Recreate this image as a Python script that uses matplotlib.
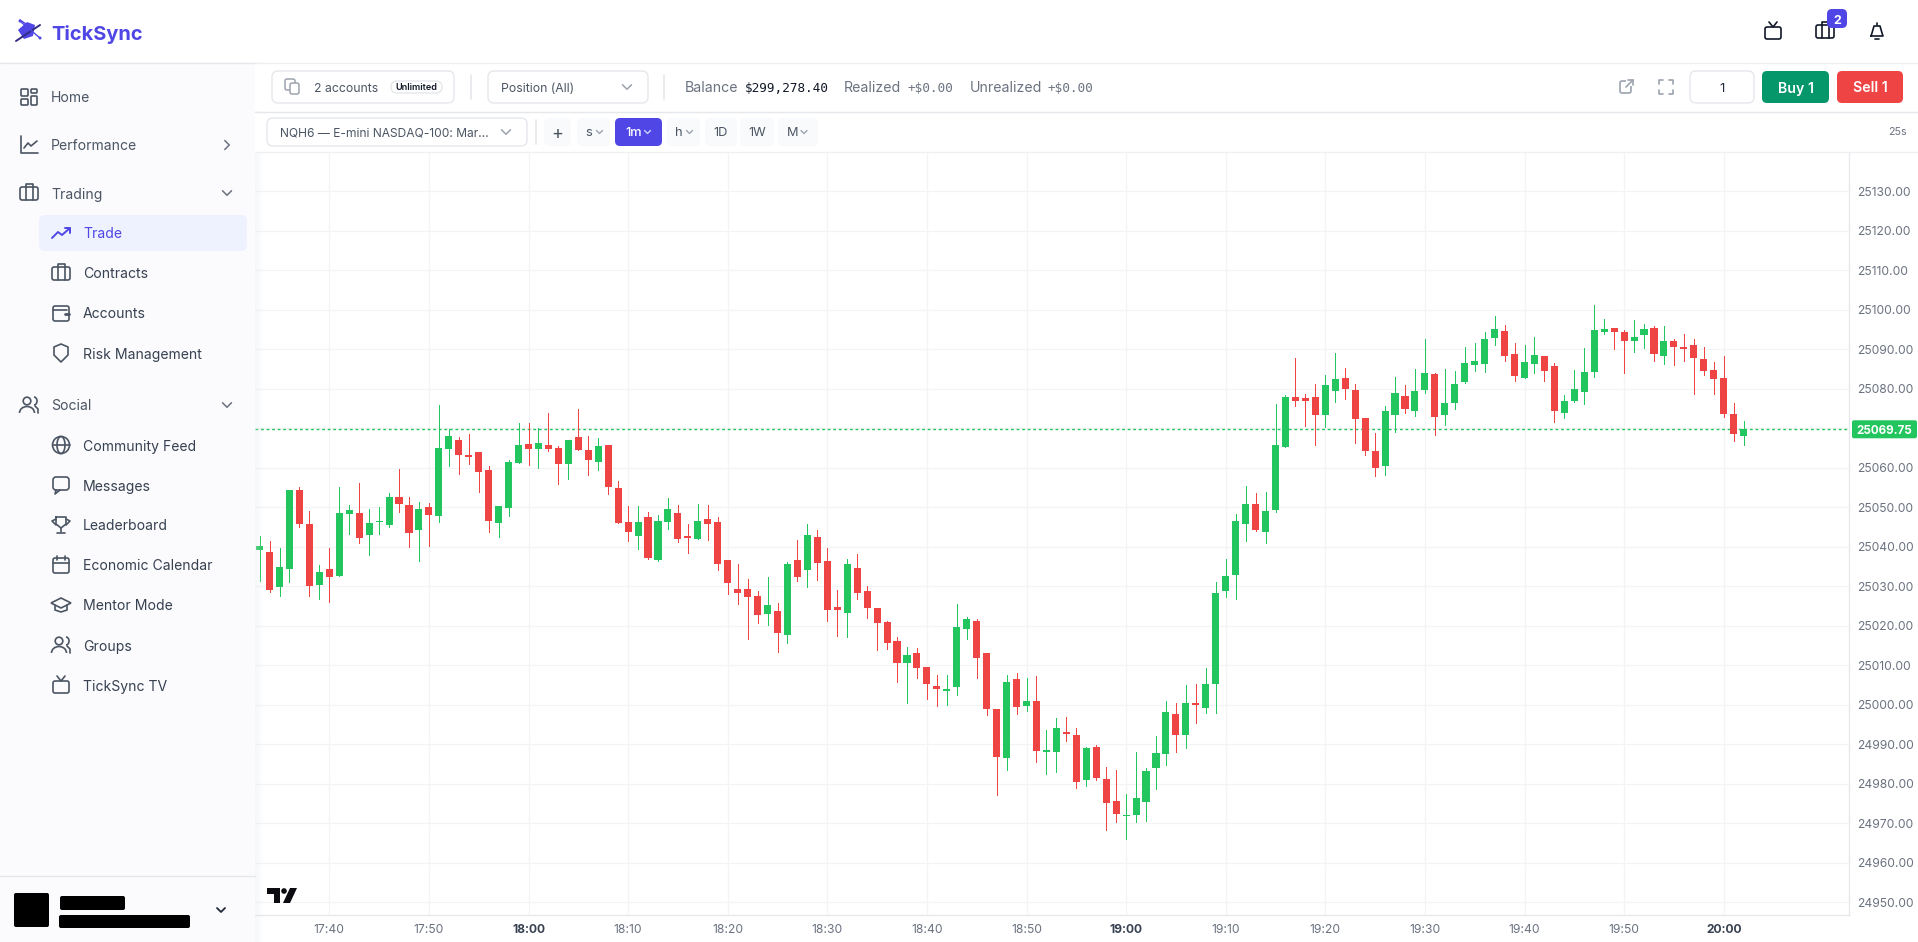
import numpy as np
import matplotlib
matplotlib.use("Agg")
import matplotlib.pyplot as plt
from matplotlib.patches import FancyBboxPatch, Rectangle, Circle, Polygon, Arc
from matplotlib.ticker import FixedLocator, FixedFormatter

plt.rcParams['font.family'] = ['Inter', 'DejaVu Sans']

# ---------- data ----------
first_minute = 17 * 60 + 33
opens = [25039.25, 25038.75, 25029.75, 25034.5, 25054.5, 25045.75, 25030.25, 25034.5, 25032.5, 25048.25,
         25048.5, 25043.0, 25046.25, 25045.5, 25052.5, 25050.5, 25044.25, 25050.0, 25047.75, 25064.75,
         25067.0, 25063.25, 25064.0, 25059.5, 25046.0, 25049.75, 25061.25, 25066.0, 25064.75, 25065.75,
         25065.0, 25061.0, 25067.75, 25064.5, 25061.5, 25065.75, 25055.0, 25046.25, 25042.75, 25047.5,
         25036.75, 25046.25, 25048.5, 25042.75, 25042.0, 25047.0, 25046.25, 25036.75, 25029.25, 25029.25,
         25027.5, 25023.0, 25023.75, 25017.75, 25036.75, 25034.25, 25042.5, 25036.5, 25024.75, 25023.25,
         25034.75, 25028.75, 25024.5, 25021.0, 25016.25, 25010.5, 25013.0, 25009.5, 25004.75, 25003.5,
         25004.5, 25019.25, 25021.25, 25013.0, 24999.0, 24986.5, 25006.5, 24999.75, 25001.0, 24988.0,
         24988.0, 24993.0, 24992.25, 24981.0, 24989.25, 24981.25, 24975.75, 24971.75, 24972.0, 24975.5,
         24984.0, 24987.5, 24997.75, 24992.25, 25000.5, 24999.25, 25005.25, 25028.75, 25032.75, 25045.75,
         25050.75, 25043.75, 25049.25, 25065.25, 25078.0, 25077.75, 25078.0, 25073.25, 25079.5, 25082.75,
         25079.75, 25072.5, 25064.25, 25060.5, 25073.25, 25078.25, 25074.5, 25079.75, 25083.75, 25073.25,
         25076.5, 25081.75, 25086.0, 25086.25, 25092.75, 25094.75, 25088.75, 25082.75, 25086.25, 25088.25,
         25085.75, 25073.75, 25077.0, 25079.25, 25084.25, 25094.5, 25095.5, 25094.5, 25092.0, 25093.5,
         25095.5, 25088.25, 25092.0, 25090.5, 25091.0, 25087.5, 25084.75, 25082.75, 25073.5, 25068.0]
highs = [25042.75, 25041.5, 25039.75, 25054.5, 25055.25, 25049.0, 25035.5, 25039.75, 25055.25, 25050.5,
         25056.25, 25049.5, 25050.0, 25053.5, 25059.75, 25052.5, 25051.25, 25051.0, 25076.0, 25069.75,
         25067.75, 25068.5, 25064.0, 25060.5, 25050.25, 25062.0, 25071.25, 25071.25, 25070.0, 25074.0,
         25065.5, 25067.0, 25075.0, 25068.0, 25067.5, 25065.75, 25056.75, 25050.25, 25050.25, 25048.75,
         25048.0, 25052.25, 25050.5, 25045.75, 25050.75, 25050.5, 25047.5, 25036.75, 25035.75, 25031.75,
         25028.75, 25032.25, 25025.75, 25036.25, 25041.75, 25045.75, 25044.25, 25039.75, 25029.0, 25037.0,
         25038.25, 25030.0, 25024.5, 25021.25, 25017.25, 25014.75, 25014.5, 25009.5, 25007.5, 25007.5,
         25025.5, 25022.25, 25021.75, 25013.0, 24999.0, 25007.5, 25008.0, 25006.75, 25007.25, 24993.5,
         24996.75, 24997.0, 24994.25, 24989.25, 24989.75, 24984.25, 24983.5, 24977.5, 24988.0, 24984.0,
         24992.0, 25001.0, 25000.5, 25005.0, 25005.25, 25009.25, 25031.0, 25037.0, 25048.25, 25055.5,
         25053.5, 25053.75, 25076.25, 25078.5, 25087.75, 25078.75, 25081.25, 25083.5, 25089.0, 25085.25,
         25081.25, 25072.5, 25068.75, 25075.75, 25083.0, 25081.0, 25085.0, 25092.5, 25084.0, 25085.0,
         25084.5, 25090.5, 25091.5, 25094.5, 25098.5, 25096.25, 25091.5, 25091.0, 25093.0, 25088.25,
         25086.5, 25078.5, 25084.75, 25090.25, 25101.25, 25097.75, 25095.5, 25095.0, 25097.5, 25096.5,
         25096.0, 25096.0, 25092.5, 25093.75, 25092.5, 25090.5, 25086.75, 25088.25, 25076.5, 25071.75]
lows = [25031.25, 25028.5, 25027.5, 25031.0, 25045.0, 25027.5, 25026.75, 25026.0, 25032.5, 25043.25,
        25041.0, 25038.0, 25043.25, 25045.0, 25048.75, 25040.0, 25036.5, 25040.25, 25046.25, 25060.5,
        25058.5, 25061.0, 25054.0, 25043.75, 25042.5, 25047.75, 25061.25, 25060.75, 25060.0, 25064.25,
        25056.0, 25057.25, 25064.5, 25058.25, 25059.5, 25053.25, 25046.0, 25041.5, 25039.5, 25037.0,
        25036.5, 25044.5, 25041.25, 25038.5, 25042.0, 25041.75, 25034.25, 25028.0, 25025.5, 25016.75,
        25020.75, 25020.25, 25013.25, 25015.75, 25031.25, 25029.75, 25031.5, 25021.25, 25017.5, 25017.25,
        25026.75, 25022.0, 25013.75, 25014.25, 25005.75, 25000.5, 25006.75, 25001.5, 24999.75, 25000.0,
        25002.5, 25016.75, 25006.75, 24997.5, 24977.25, 24983.5, 24997.75, 24998.5, 24985.5, 24982.5,
        24983.0, 24990.75, 24979.0, 24979.5, 24981.0, 24968.25, 24970.25, 24966.0, 24970.25, 24970.5,
        24978.75, 24984.75, 24988.0, 24989.0, 24995.5, 24998.0, 24998.0, 25027.25, 25026.75, 25041.5,
        25044.0, 25041.0, 25048.75, 25065.25, 25075.75, 25070.5, 25065.75, 25070.25, 25076.75, 25077.5,
        25066.25, 25063.25, 25058.0, 25058.25, 25069.0, 25074.0, 25073.0, 25079.0, 25068.25, 25070.75,
        25075.0, 25081.5, 25084.5, 25084.25, 25091.0, 25087.0, 25082.0, 25082.75, 25084.0, 25082.0,
        25071.5, 25072.5, 25076.75, 25076.25, 25083.0, 25093.75, 25090.0, 25084.0, 25089.25, 25090.25,
        25087.0, 25086.25, 25086.0, 25087.0, 25078.75, 25083.5, 25078.75, 25072.75, 25066.75, 25065.75]
closes = [25040.25, 25029.0, 25035.0, 25054.5, 25045.75, 25030.0, 25033.5, 25032.25, 25048.5, 25049.25,
          25042.25, 25046.0, 25046.5, 25052.5, 25050.75, 25043.5, 25049.5, 25048.0, 25065.0, 25068.0,
          25063.25, 25062.75, 25059.0, 25046.5, 25050.25, 25061.5, 25065.75, 25064.75, 25066.25, 25064.75,
          25061.0, 25067.0, 25064.5, 25062.0, 25065.5, 25055.25, 25046.0, 25043.75, 25046.25, 25037.25,
          25046.5, 25049.5, 25042.0, 25042.25, 25046.5, 25045.75, 25035.75, 25030.75, 25028.25, 25027.25,
          25022.75, 25025.25, 25018.25, 25035.75, 25032.25, 25043.0, 25036.0, 25024.0, 25024.0, 25035.75,
          25028.25, 25024.5, 25020.75, 25015.75, 25010.5, 25012.5, 25009.25, 25005.25, 25004.0, 25004.0,
          25019.75, 25021.75, 25011.75, 24999.0, 24986.75, 25005.75, 24999.5, 25001.0, 24988.25, 24988.5,
          24994.25, 24992.5, 24980.5, 24989.0, 24981.5, 24975.25, 24972.25, 24972.0, 24976.5, 24983.25,
          24987.75, 24998.25, 24992.25, 25000.5, 25000.0, 25005.25, 25028.25, 25032.5, 25046.5, 25050.75,
          25044.25, 25049.0, 25065.75, 25078.0, 25077.0, 25077.0, 25073.25, 25081.0, 25082.5, 25080.0,
          25072.25, 25064.25, 25060.0, 25074.5, 25079.0, 25075.0, 25079.5, 25084.0, 25072.75, 25076.5,
          25081.25, 25086.5, 25087.0, 25092.5, 25095.25, 25088.25, 25083.25, 25086.75, 25088.5, 25084.5,
          25074.5, 25077.0, 25080.0, 25084.25, 25095.0, 25095.25, 25094.5, 25092.0, 25093.0, 25095.25,
          25088.75, 25092.0, 25090.5, 25090.0, 25087.75, 25084.5, 25082.5, 25073.5, 25068.5, 25069.75]
last_price = 25069.75
price_ticks = list(range(24950, 25131, 10))
time_tick_minutes = list(range(17 * 60 + 40, 20 * 60 + 1, 10))
time_tick_labels = ['17:40', '17:50', '18:00', '18:10', '18:20', '18:30', '18:40', '18:50',
                    '19:00', '19:10', '19:20', '19:30', '19:40', '19:50', '20:00']
bold_labels = ['18:00', '19:00', '20:00']
side_main = [('Home', 97), ('Performance', 145), ('Trading', 193), ('Social', 405)]
side_sub = [('Trade', 233), ('Contracts', 273), ('Accounts', 313), ('Risk Management', 353),
            ('Community Feed', 445), ('Messages', 485), ('Leaderboard', 525), ('Economic Calendar', 565),
            ('Mentor Mode', 605), ('Groups', 645), ('TickSync TV', 685)]
interval_buttons = [('+', 544, 571), ('s', 577, 610), ('1m', 615, 662), ('h', 667, 700),
                    ('1D', 705, 737), ('1W', 740, 774), ('M', 778, 818)]

# ---------- figure ----------
W, H = 1918, 942
fig = plt.figure(figsize=(W / 100, H / 100), dpi=100, facecolor='white')
GREEN, RED = '#22c55e', '#ef4444'
GRID = '#f3f4f6'
BORDER = '#e5e7eb'
GRAY = '#6b7280'
INDIGO = '#4f46e5'

# chart axes (pixel box 255..1849, 152..915)
L, R, T, B = 255, 1849, 152, 915
ax = fig.add_axes([L / W, 1 - B / H, (R - L) / W, (B - T) / H])
px_per_min, px_per_pt = 9.96, 3.95
ax.set_xlim(1060 + (L - 329.3) / px_per_min, 1060 + (R - 329.3) / px_per_min)
ax.set_ylim(25030 + (586.3 - B) / px_per_pt, 25030 + (586.3 - T) / px_per_pt)

minutes = np.arange(first_minute, first_minute + len(opens))
o, h, l, c = map(np.array, (opens, highs, lows, closes))
up = c >= o
colors = np.where(up, GREEN, RED)
ax.vlines(minutes, l, h, colors=colors, linewidth=0.72, zorder=3, antialiased=False)
ax.bar(minutes, np.maximum(np.abs(c - o), 0.4), bottom=np.minimum(o, c), width=0.71,
       color=colors, zorder=4, linewidth=0, antialiased=False)
ax.axhline(last_price, color=GREEN, linewidth=1.0, linestyle=(0, (2, 2)), zorder=2)

ax.xaxis.set_major_locator(FixedLocator(time_tick_minutes))
ax.xaxis.set_major_formatter(FixedFormatter(time_tick_labels))
ax.yaxis.tick_right()
ax.yaxis.set_major_locator(FixedLocator(price_ticks))
ax.yaxis.set_major_formatter(FixedFormatter([f'{p:.2f}' for p in price_ticks]))
ax.grid(True, color=GRID, linewidth=0.9, zorder=0)
ax.set_axisbelow(True)
ax.tick_params(axis='both', length=0, labelcolor=GRAY, labelsize=8.7)
ax.tick_params(axis='y', pad=5.5)
ax.tick_params(axis='x', pad=6.5)
for lab in ax.get_xticklabels():
    if lab.get_text() in bold_labels:
        lab.set_fontweight('bold')
        lab.set_color('#374151')
for s in ('top', 'left'):
    ax.spines[s].set_visible(False)
for s in ('right', 'bottom'):
    ax.spines[s].set_color(BORDER)
    ax.spines[s].set_linewidth(0.9)

# overlay in pixel coordinates for the surrounding application frame
ui = fig.add_axes([0, 0, 1, 1], zorder=5)
ui.set_xlim(0, W)
ui.set_ylim(H, 0)
ui.axis('off')
ui.patch.set_alpha(0)


def box(x0, y0, x1, y1, fc='white', ec='none', r=6, lw=1.0, z=2):
    ui.add_patch(FancyBboxPatch((x0 + r, y0 + r), x1 - x0 - 2 * r, y1 - y0 - 2 * r,
                                boxstyle=f'round,pad={r},rounding_size={r}',
                                fc=fc, ec=ec, lw=lw, zorder=z))


def rect(x0, y0, x1, y1, fc, a=1.0, z=1):
    ui.add_patch(Rectangle((x0, y0), x1 - x0, y1 - y0, fc=fc, ec='none', alpha=a, zorder=z))


def line(xs, ys, c='#4b5563', lw=1.2, z=3):
    ui.plot(xs, ys, color=c, lw=lw, zorder=z, solid_capstyle='round', solid_joinstyle='round')


def txt(x, y, s, size=10, c='#4b5563', ha='left', w='normal', fam=None, z=4):
    kw = {'family': fam} if fam else {}
    ui.text(x, y, s, fontsize=size, color=c, ha=ha, va='center_baseline', fontweight=w, zorder=z, **kw)


def chevron(x, y, c='#6b7280', s=4, down=True, lw=1.1):
    if down:
        line([x - s, x, x + s], [y - s / 2, y + s / 2, y - s / 2], c, lw)
    else:
        line([x - s / 2, x + s / 2, x - s / 2], [y - s, y, y + s], c, lw)


def case(x, y, c='#4b5563'):
    box(x - 9, y - 6, x + 9, y + 7, fc='none', ec=c, r=2, lw=1.2, z=3)
    line([x - 3.5, x - 3.5, x + 3.5, x + 3.5], [y - 6, y - 9, y - 9, y - 6], c)
    line([x - 3.5, x - 3.5], [y - 6, y + 7], c)
    line([x + 3.5, x + 3.5], [y - 6, y + 7], c)


def tv(x, y, c='#4b5563'):
    box(x - 8, y - 4, x + 8, y + 8, fc='none', ec=c, r=2, lw=1.2, z=3)
    line([x - 4, x, x + 4], [y - 9, y - 4, y - 9], c)


def icon(name, x, y):
    c = '#4b5563'
    if name == 'Home':
        for a, b, d, e in [(-8, -8, -1, -1), (2, -8, 8, -4), (2, -1, 8, 8), (-8, 2, -1, 8)]:
            box(x + a, y + b, x + d, y + e, fc='none', ec=c, r=1, lw=1.2, z=3)
    elif name == 'Performance':
        line([x - 8, x - 8, x + 9], [y - 9, y + 8, y + 8], c)
        line([x - 5, x - 1, x + 2, x + 8], [y + 3, y - 2, y + 1, y - 4], c)
    elif name in ('Trading', 'Contracts'):
        case(x, y, c)
    elif name == 'Trade':
        line([x - 9, x - 3, x + 1, x + 9], [y + 5, y - 1, y + 2, y - 5], INDIGO, 1.4)
        line([x + 4, x + 9, x + 9], [y - 5, y - 5, y], INDIGO, 1.4)
    elif name == 'Accounts':
        box(x - 8, y - 7, x + 8, y + 8, fc='none', ec=c, r=2, lw=1.2, z=3)
        line([x + 4, x + 8], [y + 1, y + 1], c, 2)
        line([x - 8, x + 6], [y - 3, y - 3], c)
    elif name == 'Risk Management':
        ui.add_patch(Polygon([(x, y - 9), (x + 7, y - 6), (x + 7, y + 2), (x, y + 9), (x - 7, y + 2), (x - 7, y - 6)],
                             closed=True, fc='none', ec=c, lw=1.2, zorder=3, joinstyle='round'))
    elif name in ('Social', 'Groups'):
        ui.add_patch(Circle((x - 2, y - 4), 3.8, fc='none', ec=c, lw=1.2, zorder=3))
        ui.add_patch(Arc((x - 2, y + 8), 15, 13, theta1=180, theta2=360, ec=c, lw=1.2, zorder=3))
        ui.add_patch(Arc((x + 5, y - 4), 6, 8, theta1=270, theta2=90, ec=c, lw=1.2, zorder=3))
        line([x + 6, x + 9, x + 9], [y + 1, y + 4, y + 8], c)
    elif name == 'Community Feed':
        ui.add_patch(Circle((x, y), 8.5, fc='none', ec=c, lw=1.2, zorder=3))
        ui.add_patch(Arc((x, y), 8, 17, ec=c, lw=1.2, zorder=3))
        line([x - 8.5, x + 8.5], [y, y], c)
    elif name == 'Messages':
        box(x - 8, y - 8, x + 8, y + 5, fc='none', ec=c, r=3, lw=1.2, z=3)
        line([x - 5, x - 6, x - 1], [y + 5, y + 9, y + 5], c)
    elif name == 'Leaderboard':
        line([x - 5, x + 5, x + 5, x, x - 5, x - 5], [y - 8, y - 8, y - 1, y + 3, y - 1, y - 8], c)
        line([x - 5, x - 9, x - 5], [y - 6, y - 4, y], c)
        line([x + 5, x + 9, x + 5], [y - 6, y - 4, y], c)
        line([x, x], [y + 3, y + 7], c)
        line([x - 4, x + 4], [y + 8, y + 8], c)
    elif name == 'Economic Calendar':
        box(x - 8, y - 7, x + 8, y + 8, fc='none', ec=c, r=2, lw=1.2, z=3)
        line([x - 8, x + 8], [y - 2, y - 2], c)
        line([x - 4, x - 4], [y - 9, y - 5], c)
        line([x + 4, x + 4], [y - 9, y - 5], c)
    elif name == 'Mentor Mode':
        ui.add_patch(Polygon([(x - 10, y - 2), (x, y - 7), (x + 10, y - 2), (x, y + 3)], closed=True,
                             fc='none', ec=c, lw=1.2, zorder=3))
        line([x - 6, x - 6, x, x + 6, x + 6], [y, y + 5, y + 7, y + 5, y], c)
    elif name == 'TickSync TV':
        tv(x, y, c)


# sidebar
rect(0, 0, L, H, '#fbfbfd')
rect(0, 0, L, 62, 'white')
for k in range(8):
    rect(L + k, 0, L + k + 1, H, '#e3e6ec', a=0.30 * (1 - k / 8), z=1)
line([0, L], [62.5, 62.5], BORDER, 1.0)
line([0, L], [875.5, 875.5], BORDER, 1.0)
txt(51, 32, 'TickSync', 14.4, INDIGO, w='bold')
# logo mark
ui.add_patch(Polygon([(18, 30), (27, 22), (35, 25), (33, 36), (24, 39)], closed=True, fc=INDIGO, ec='none', zorder=3))
line([16, 40], [41, 25], '#312e81', 1.4)
line([20, 26], [20, 24], INDIGO, 1.0)
line([21, 40], [22, 38], INDIGO, 1.0)
ui.add_patch(Circle((20, 21), 1.5, fc=INDIGO, ec='none', zorder=3))
ui.add_patch(Circle((40, 38), 1.5, fc=INDIGO, ec='none', zorder=3))

for name, y in side_main:
    txt(51, y, name, 10.1, '#4b5563')
    icon(name, 29, y)
chevron(227, 145, '#6b7280', 4.5, down=False)
chevron(227, 193, '#6b7280', 4.5)
chevron(227, 405, '#6b7280', 4.5)
box(39, 215, 247, 251, fc='#eef2ff', r=6)
for name, y in side_sub:
    active = name == 'Trade'
    txt(83, y, name, 10.1, INDIGO if active else '#374151')
    icon(name, 61, y)

# account card (redacted in the source)
box(14, 893, 49, 927, fc='black', r=2, z=3)
box(60, 896, 125, 910, fc='black', r=2, z=3)
box(59, 915, 190, 928, fc='black', r=2, z=3)
chevron(221, 910, '#1f2937', 4, lw=1.3)

# header strip
rect(L, 0, W, 62, 'white')
line([L, W], [62.5, 62.5], '#eef0f3', 1.0)
tv(1773, 31, '#111827')
case(1825, 31, '#111827')
box(1827, 9, 1847, 28, fc=INDIGO, r=5, z=4)
txt(1837, 19, '2', 9, 'white', ha='center', w='bold', z=5)
line([1871, 1872, 1874, 1880, 1882, 1883, 1871], [36, 33, 26, 26, 33, 36, 36], '#111827')
line([1877, 1877], [23, 25], '#111827')
line([1875, 1879], [39, 39], '#111827')

# toolbar row 1
rect(L, 63, W, 111, 'white')
line([L, W], [111.5, 111.5], BORDER, 1.0)
box(272, 71, 454, 103, ec=BORDER)
box(290, 83, 299, 94, fc='white', ec='#9ca3af', r=2, lw=1.1, z=4)
box(285, 79, 295, 90, fc='none', ec='#9ca3af', r=2, lw=1.1, z=3)
txt(314, 87, '2 accounts', 8.8, '#4b5563')
box(391, 81, 442, 93, ec=BORDER, r=6)
txt(416.5, 87, 'Unlimited', 6.6, '#111827', ha='center', w='semibold')
line([471, 471], [75, 99], BORDER)
box(488, 71, 648, 103, ec=BORDER)
txt(501, 87, 'Position (All)', 8.8, '#4b5563')
chevron(627, 87, '#9ca3af', 4.5)
line([664, 664], [75, 99], BORDER)
txt(685, 87, 'Balance', 10.2, GRAY)
txt(745, 87, '$299,278.40', 9.15, '#111827', fam='DejaVu Sans Mono')
txt(844, 87, 'Realized', 10.2, GRAY)
txt(908, 87, '+$0.00', 9.15, GRAY, fam='DejaVu Sans Mono')
txt(970, 87, 'Unrealized', 10.2, GRAY)
txt(1047, 87, '+$0.00', 9.15, GRAY, fam='DejaVu Sans Mono')
# external-link and fullscreen icons
box(1620, 81, 1631, 93, fc='none', ec='#9ca3af', r=2, lw=1.2, z=3)
rect(1626, 79, 1634, 86, 'white', z=3)
line([1626, 1633], [87, 80], '#9ca3af', 1.2, z=4)
line([1628, 1633, 1633], [80, 80, 85], '#9ca3af', 1.2, z=4)
for sx, sy in [(-1, -1), (1, -1), (-1, 1), (1, 1)]:
    line([1666 + sx * 7, 1666 + sx * 7, 1666 + sx * 3], [87 + sy * 3, 87 + sy * 7, 87 + sy * 7], '#9ca3af', 1.2)
box(1690, 71, 1754, 103, ec=BORDER)
txt(1722, 87, '1', 9.5, '#1f2937', ha='center')
box(1762, 71, 1829, 103, fc='#059669', r=5)
txt(1795.5, 87, 'Buy 1', 10.2, 'white', ha='center', w='semibold')
box(1837, 71, 1903, 103, fc='#ef4444', r=5)
txt(1870, 87, 'Sell 1', 10.2, 'white', ha='center', w='semibold')

# toolbar row 2
rect(L, 112, W, T, 'white')
line([L, W], [152, 152], '#eef0f3', 1.0)
box(267, 118, 527, 146, ec=BORDER)
txt(280, 132, 'NQH6 \u2014 E-mini NASDAQ-100: Mar...', 8.65, '#4b5563')
chevron(506, 132, '#9ca3af', 4.5)
line([536, 536], [120, 144], BORDER)
for lab, x0, x1 in interval_buttons:
    act = lab == '1m'
    box(x0, 118, x1, 146, fc=INDIGO if act else '#f9fafb', r=5)
    has_chev = lab in ('s', '1m', 'h', 'M')
    cx = (x0 + x1) / 2 - (5 if has_chev else 0)
    col = 'white' if act else '#4b5563'
    txt(cx, 132, lab, 13 if lab == '+' else 9.2, col, ha='center', w='medium' if act else 'normal')
    if has_chev:
        chevron(cx + (14 if act else 11), 132, '#c7d2fe' if act else '#9ca3af', 3, lw=1.0)
txt(1897, 131, '25s', 7.6, GRAY, ha='center')

# TradingView mark
ui.add_patch(Polygon([(267, 888), (280, 888), (280, 903), (274, 903), (274, 894), (267, 894)], closed=True, fc='#0b0b10', ec='none', zorder=3))
ui.add_patch(Circle((284, 891), 2.8, fc='#0b0b10', ec='none', zorder=3))
ui.add_patch(Polygon([(290, 888), (297, 888), (290, 903), (283, 903)], closed=True, fc='#0b0b10', ec='none', zorder=3))

# last-price label
y_last = 586.3 + (25030 - last_price) * px_per_pt
box(1852, y_last - 9, 1917, y_last + 9, fc=GREEN, r=2, z=4)
txt(1884.5, y_last + 0.5, f'{last_price:.2f}', 8.4, 'white', ha='center', w='bold', z=5)

fig.savefig('out.png', dpi=100, facecolor='white')
